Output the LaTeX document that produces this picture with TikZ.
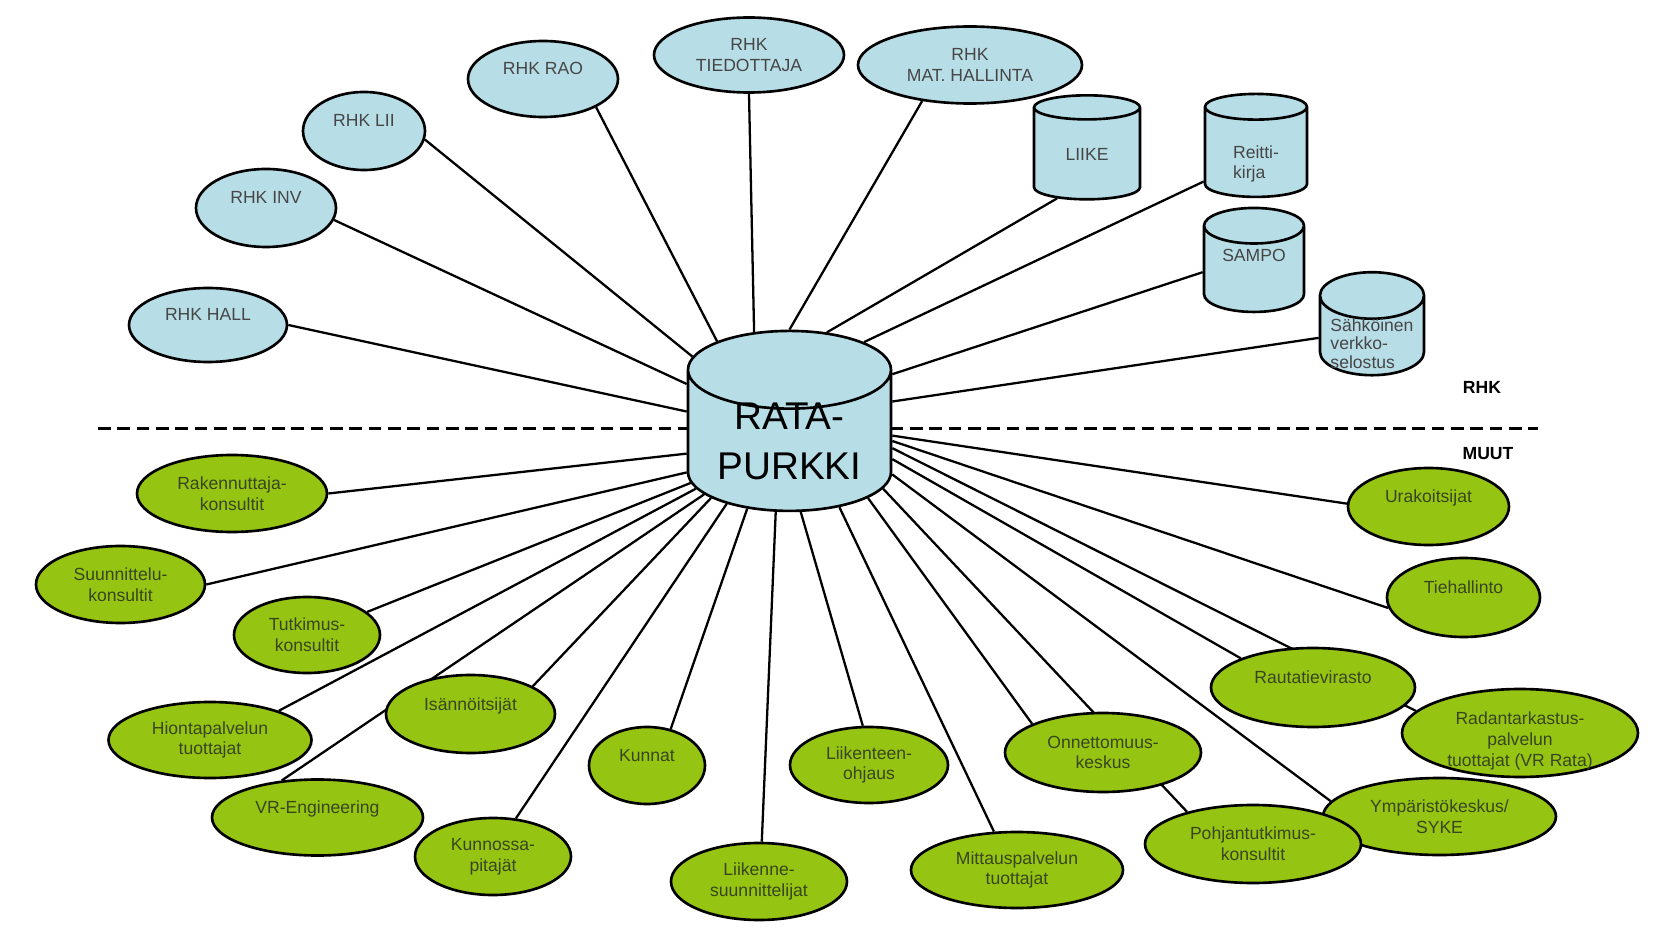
\documentclass[tikz,border=0pt]{standalone}
\usepackage{fontspec}
\setsansfont{Liberation Sans}
\usetikzlibrary{shapes.geometric,backgrounds}
\definecolor{rhkblue}{RGB}{183,221,230}
\definecolor{muutgreen}{RGB}{150,196,18}
\definecolor{rhktext}{RGB}{70,70,70}
\definecolor{muuttext}{RGB}{55,70,30}
\newcommand{\txtshift}[3][c]{\raisebox{#2}[\height][\depth]{\begin{tabular}{@{}#1@{}}#3\end{tabular}}}
\newcommand{\dbtext}[3][c]{\raisebox{#2}[0pt][0pt]{\begin{tabular}[b]{@{}#1@{}}#3\end{tabular}}}

\begin{document}
\begin{tikzpicture}[font=\sffamily, line width=1.3pt,
    smalltxt/.style={font=\sffamily\fontsize{10}{11.8}\selectfont},
    rhk/.style={ellipse, draw, line width=1.5pt, fill=rhkblue, text=rhktext, inner sep=0pt, align=center, smalltxt},
    muut/.style={ellipse, draw, line width=1.5pt, fill=muutgreen, text=muuttext, inner sep=0pt, align=center, smalltxt},
    db/.style={cylinder, shape border rotate=90, aspect=0.56, draw, line width=1.5pt, fill=rhkblue, text=rhktext, inner sep=0pt, align=left, smalltxt}]
  \useasboundingbox (0,0) rectangle (33.1,18.78);

  % RHK side
  \node[rhk, minimum width=3.16cm, minimum height=1.48cm] (hall) at (4.16,12.28) {RHK HALL\\\mbox{}};
  \node[rhk, minimum width=2.80cm, minimum height=1.56cm] (inv) at (5.32,14.62) {RHK INV\\\mbox{}};
  \node[rhk, minimum width=2.44cm, minimum height=1.56cm] (lii) at (7.28,16.16) {RHK LII\\\mbox{}};
  \node[rhk, minimum width=3.00cm, minimum height=1.52cm] (rao) at (10.86,17.20) {RHK RAO\\\mbox{}};
  \node[rhk, minimum width=3.80cm, minimum height=1.50cm] (tied) at (14.98,17.68) {RHK\\TIEDOTTAJA};
  \node[rhk, minimum width=4.48cm, minimum height=1.54cm] (mat) at (19.40,17.48) {RHK\\MAT. HALLINTA};
  \node[db, minimum width=2.12cm, minimum height=2.08cm] (liike) at (21.74,15.70) {LIIKE};
  \node[db, minimum width=2.04cm, minimum height=2.06cm] (reitti) at (25.12,15.73) {\txtshift[l]{-6.8pt}{Reitti-\\kirja}};
  \node[db, minimum width=2.00cm, minimum height=2.08cm] (sampo) at (25.08,13.39) {\txtshift{7pt}{SAMPO}};
  \node[db, minimum width=2.08cm, minimum height=2.06cm, font=\sffamily\fontsize{10}{10.6}\selectfont] (sahk) at (27.44,12.06)
       {\dbtext[l]{-18.5pt}{Sähköinen\\verkko-\\selostus}};

  \node[db, aspect=0.54, minimum width=4.06cm, minimum height=3.6cm, text=black,
        font=\sffamily\fontsize{22}{28.5}\selectfont] (rata) at (15.79,9.96) {\dbtext{-22.1pt}{RATA-\\PURKKI}};

  \node[font=\sffamily\bfseries\fontsize{10}{12}\selectfont] (rhklab) at (29.64,11.04) {RHK};
  \node[font=\sffamily\bfseries\fontsize{10}{12}\selectfont] (muutlab) at (29.76,9.70) {MUUT};

  % MUUT side
  \node[muut, minimum width=3.80cm, minimum height=1.54cm] (raken) at (4.64,8.91) {Rakennuttaja-\\konsultit};
  \node[muut, minimum width=3.38cm, minimum height=1.54cm] (suunn) at (2.41,7.09) {Suunnittelu-\\konsultit};
  \node[muut, minimum width=2.92cm, minimum height=1.52cm] (tutk) at (6.14,6.08) {Tutkimus-\\konsultit};
  \node[muut, minimum width=4.06cm, minimum height=1.52cm] (hionta) at (4.20,3.98) {Hiontapalvelun\\tuottajat};
  \node[muut, minimum width=3.38cm, minimum height=1.56cm] (isann) at (9.41,4.50) {Isännöitsijät\\\mbox{}};
  \node[muut, minimum width=4.22cm, minimum height=1.52cm] (vreng) at (6.35,2.43) {VR-Engineering\\\mbox{}};
  \node[muut, minimum width=3.12cm, minimum height=1.54cm] (kunnossa) at (9.86,1.65) {Kunnossa-\\pitajät};
  \node[muut, minimum width=2.32cm, minimum height=1.54cm] (kunnat) at (12.94,3.47) {Kunnat\\\mbox{}};
  \node[muut, minimum width=3.52cm, minimum height=1.54cm] (liiksuunn) at (15.18,1.15) {Liikenne-\\suunnittelijat};
  \node[muut, minimum width=3.16cm, minimum height=1.52cm] (liikohj) at (17.38,3.48) {Liikenteen-\\ohjaus};
  \node[muut, minimum width=4.24cm, minimum height=1.52cm] (mittaus) at (20.34,1.38) {Mittauspalvelun\\tuottajat};
  \node[muut, minimum width=3.92cm, minimum height=1.58cm] (onnett) at (22.06,3.73) {Onnettomuus-\\keskus};
  \node[muut, minimum width=4.66cm, minimum height=1.54cm] (ymp) at (28.79,2.45) {Ympäristökeskus/\\SYKE};
  \node[muut, minimum width=4.32cm, minimum height=1.56cm] (pohjan) at (25.06,1.90) {Pohjantutkimus-\\konsultit};
  \node[muut, minimum width=4.08cm, minimum height=1.58cm] (rauta) at (26.26,5.03) {Rautatievirasto\\\mbox{}};
  \node[muut, minimum width=4.72cm, minimum height=1.72cm] (radan) at (30.40,4.12) {\txtshift{-4.8pt}{Radantarkastus-\\palvelun\\tuottajat (VR Rata)}};
  \node[muut, minimum width=3.06cm, minimum height=1.58cm] (tieh) at (29.27,6.83) {Tiehallinto\\\mbox{}};
  \node[muut, minimum width=3.22cm, minimum height=1.54cm] (urak) at (28.57,8.65) {Urakoitsijat\\\mbox{}};

  \begin{scope}[on background layer={line width=1.3pt}]
    \draw[line width=1.8pt, dash pattern=on 7.2pt off 3.8pt] (1.96,10.21) -- (30.76,10.21);
    \foreach \n/\s/\t in {hall/164.2/0, inv/151.4/350, lii/139.7/352, rao/126.7/332, tied/108.4/270,
        mat/90/217.6, liike/71.8/236.6, reitti/53/209.7, sampo/33.4/183.9, sahk/21.4/182.2}
      \draw (rata.\s) -- (\n.\t);
    \foreach \n/\s/\t in {raken/187.9/0, suunn/197/0, tutk/203/21, hionta/207.1/23, vreng/212.5/134,
        isann/216.7/24, kunnossa/225.2/59, kunnat/238.1/57, liiksuunn/259.4/86, liikohj/279.8/99}
      \draw (rata.\s) -- (\n.\t);
    \foreach \n/\s/\t in {mittaus/307.8/121, onnett/324.8/158.6, pohjan/333.1/154, ymp/342.2/172.5,
        rauta/350.6/158, radan/356.7/168, tieh/0/188, urak/3.9/178.6}
      \draw (rata.\s) -- (\n.\t);
  \end{scope}
\end{tikzpicture}
\end{document}
